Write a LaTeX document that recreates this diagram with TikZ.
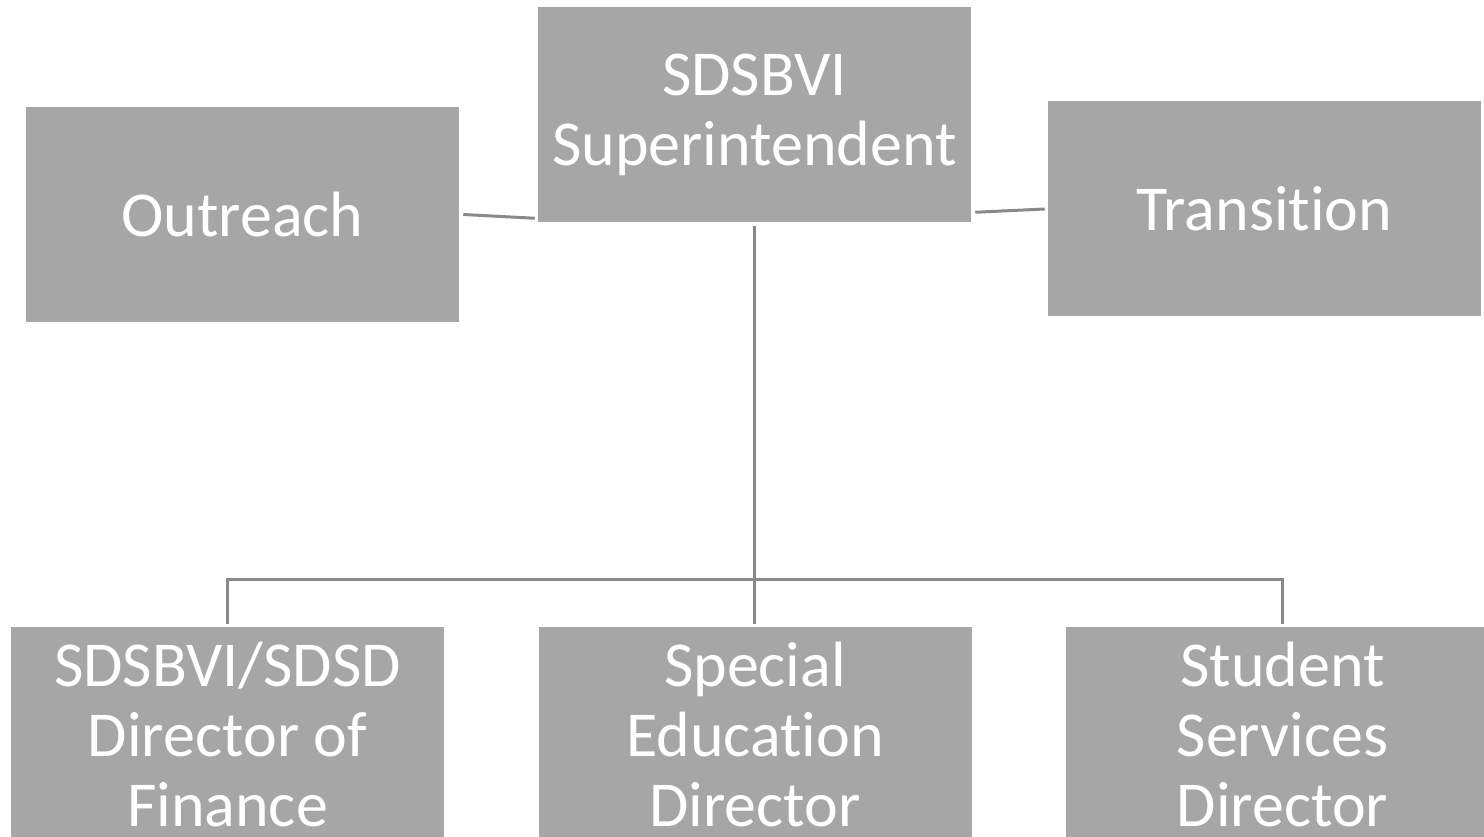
\documentclass[tikz,border=0pt]{standalone}
\usepackage{fontspec}
\setmainfont[Ligatures=NoCommon]{Carlito}
\usetikzlibrary{calc}
\definecolor{boxgray}{RGB}{166,166,166}
\definecolor{linegray}{RGB}{137,137,137}
\tikzset{
  x=0.75pt, y=-0.75pt,
  orgbox/.style={rectangle, fill=boxgray, draw=none, inner sep=0pt,
    minimum width=324.75pt, minimum height=161.25pt, align=center,
    text=white, font=\fontsize{48}{52.5}\selectfont},
  conn/.style={draw=linegray, line width=2.25pt}
}
\begin{document}
\begin{tikzpicture}
\useasboundingbox (0,0) rectangle (1484,837);
\node[orgbox] (sup) at (754.5,114.5) {SDSBVI\\Superintendent};
\node[orgbox] (out) at (242.5,214.5) {Outreach};
\node[orgbox] (tra) at (1264.5,208.5) {Transition};
\node[orgbox] (fin) at (227.5,734.5) {SDSBVI/SDSD\\Director of\\Finance};
\node[orgbox] (spe) at (755,734.5) {Special\\Education\\Director};
\node[orgbox] (stu) at (1282.5,734.5) {Student\\Services\\Director};
\coordinate (bus) at (754.5,579);
\draw[conn] ($(out.east)+(4,0)$) -- ($(sup.south west)+(-3,-4)$);
\draw[conn] ($(sup.south east)+(4,-10)$) -- ($(tra.west)+(-3,0.5)$);
\draw[conn] ($(sup.south)+(0,4)$) -- ($(spe.north)+(-0.5,-3)$);
\draw[conn] ($(fin.north)+(0,-3)$) |- (bus) -| ($(stu.north)+(0,-3)$);
\end{tikzpicture}
\end{document}
